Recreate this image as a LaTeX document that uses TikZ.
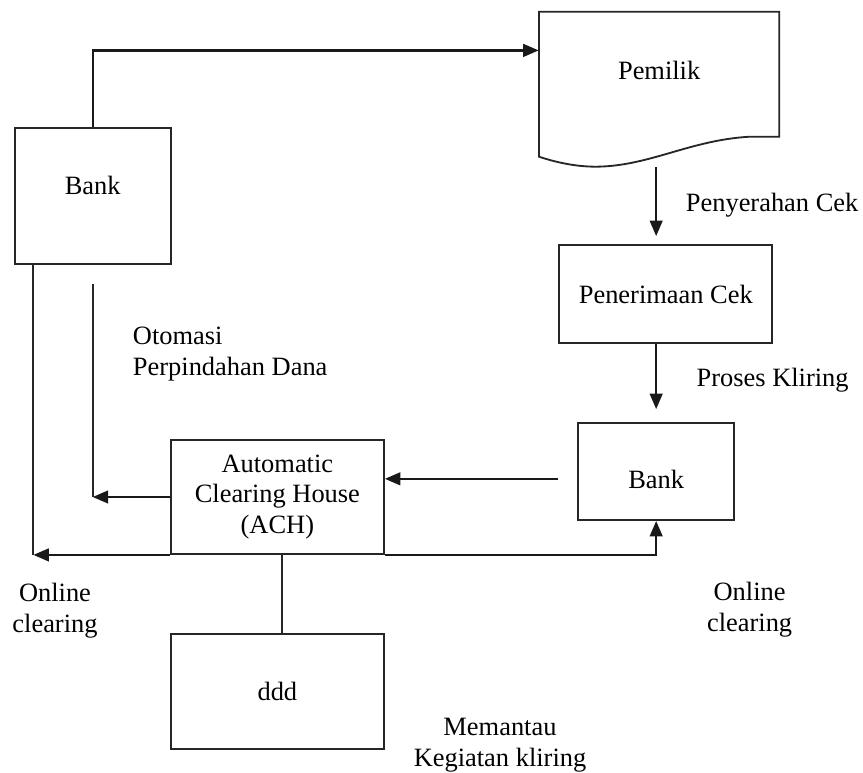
\documentclass[tikz,border=0pt]{standalone}
\usepackage{fontspec}
\setmainfont{Liberation Serif}
\usetikzlibrary{arrows.meta,positioning,calc}

\tikzset{
  box/.style={draw=black!85,line width=1.3pt,rectangle,inner sep=0pt,align=center,
    font=\fontsize{18.8}{22}\selectfont},
  lbl/.style={inner sep=0pt,font=\fontsize{18.8}{22}\selectfont},
  link/.style={draw=black!85,line width=1.4pt},
  arr/.style={draw=black!90,line width=1.6pt,-{Triangle[length=11pt,width=9pt]}}
}

\begin{document}
\begin{tikzpicture}
  \useasboundingbox (0,0) rectangle (21.575,19.3);

  % Boxes
  \node[box,minimum width=3.9cm,minimum height=3.4cm] (bankA) at (2.3175,14.39) {};
  \node[lbl] (bankAtxt) at ([yshift=0.28cm]bankA.center) {Bank};

  \node[minimum width=6.01cm,minimum height=3.875cm,inner sep=0pt] (pemilik) at (16.479,17.07) {};
  \draw[black!85,line width=1.3pt] (13.475,19.0075) -- (19.4825,19.0075) -- (19.4825,15.8825)
    -- (18.75,15.8825) .. controls (17.25,15.8) and (16.25,15.15) .. (14.9175,15.1325)
    .. controls (14.375,15.13) and (13.875,15.25) .. (13.475,15.3825) -- cycle;
  \node[lbl] (pemiliktxt) at ([yshift=0.48cm]pemilik.center) {Pemilik};

  \node[box,minimum width=5.325cm,minimum height=2.45cm] (penerimaan) at (16.645,11.95) {Penerimaan Cek};

  \node[box,minimum width=3.89cm,minimum height=2.42cm] (bankB) at (16.404,7.509) {};
  \node[lbl] (bankBtxt) at ([yshift=-0.19cm]bankB.center) {Bank};

  \node[box,minimum width=5.33cm,minimum height=2.85cm] (ach) at (6.934,6.875)
    {Automatic\\Clearing House\\(ACH)};

  \node[box,minimum width=5.33cm,minimum height=2.875cm] (ddd) at (6.934,2.0125) {ddd};

  % Connectors
  \draw[arr] (bankA.north) |- ([yshift=-0.975cm]pemilik.north west);
  \draw[arr,shorten >=0.2cm] (pemilik.south -| bankB.north) -- (penerimaan.north -| bankB.north);
  \draw[arr,shorten >=0.33cm] (penerimaan.south -| bankB.north) -- (bankB.north);

  \coordinate (fromB) at ([xshift=-0.475cm,yshift=-0.18cm]bankB.west);
  \draw[arr] (fromB) -- (fromB -| ach.east);

  \draw[link] ([yshift=-0.475cm]bankA.south) -- (ach.west -| bankA.south);
  \draw[arr] (ach.west) -- (ach.west -| bankA.south);

  \coordinate (outL) at ([xshift=0.49cm]bankA.south west);
  \draw[link] (outL) -- (outL |- ach.south west);
  \draw[arr] (ach.south west) -- (outL |- ach.south west);

  \draw[arr] (ach.south east) -| (bankB.south);
  \draw[link] ([xshift=0.12cm]ach.south) -- ([xshift=0.12cm]ddd.north);

  % Labels
  \node[lbl,anchor=west] (lpenyerahan) at (17.14,14.175) {Penyerahan Cek};
  \node[lbl,anchor=west] (lproses) at (17.41,9.8) {Proses Kliring};
  \node[lbl,anchor=west,align=left] (lotomasi) at (3.3175,10.4375) {Otomasi\\Perpindahan Dana};
  \node[lbl,align=center] (lonlineA) at (1.375,4.025) {Online\\clearing};
  \node[lbl,align=center] (lonlineB) at (18.74,4.05) {Online\\clearing};
  \node[lbl,align=center] (lmemantau) at (12.5,0.68) {Memantau\\Kegiatan kliring};
\end{tikzpicture}
\end{document}
